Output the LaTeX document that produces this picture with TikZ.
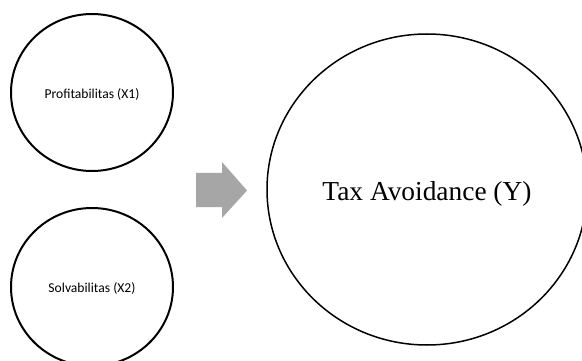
\documentclass[tikz,border=0pt]{standalone}
\usepackage{fontspec}
\setmainfont{Liberation Serif}
\newfontfamily\calibri{Carlito}
\usetikzlibrary{shapes.geometric}
\begin{document}
\begin{tikzpicture}[x=1pt,y=-1pt,
  circ/.style={draw=black,ellipse,inner sep=0pt,fill=white},
  small/.style={font=\calibri\fontsize{13.6}{16}\selectfont},
  big/.style={font=\fontsize{27.4}{30}\selectfont}]
\useasboundingbox[fill=white] (0,0) rectangle (582,361);
\clip (0,0) rectangle (582,361);
\node[circ,line width=2pt,minimum width=162pt,minimum height=157pt,
  label={[small,yshift=-1.5pt]center:Profitabilitas (X1)}] (x1) at (92,92.5) {};
\node[circ,line width=2pt,minimum width=162pt,minimum height=158pt,
  label={[small,yshift=-1.5pt]center:Solvabilitas (X2)}] (x2) at (92,287) {};
\node[circ,line width=1.5pt,minimum width=320pt,minimum height=311pt,
  label={[big,yshift=-4pt]center:Tax Avoidance (Y)}] (y) at (427,189.5) {};
\fill[fill={rgb,255:red,166;green,166;blue,166}] (196,173) -- (222,173) -- (222,162) -- (247,190.5) -- (222,218) -- (222,207) -- (196,207) -- cycle;
\end{tikzpicture}
\end{document}
